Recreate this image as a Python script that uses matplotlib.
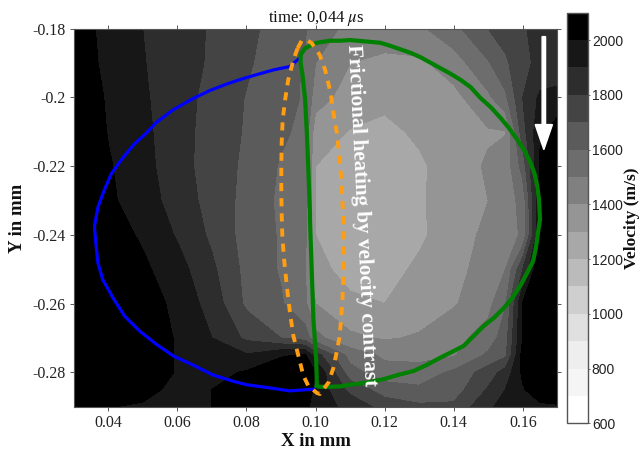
import numpy as np
import matplotlib
matplotlib.use("Agg")
import matplotlib.pyplot as plt
from matplotlib.colors import ListedColormap, BoundaryNorm

x_grid = [0.03, 0.04, 0.05, 0.06, 0.07, 0.08, 0.09, 0.097, 0.10, 0.11, 0.12, 0.13, 0.14, 0.15, 0.155, 0.16, 0.165, 0.17]
y_grid = [-0.18, -0.19, -0.20, -0.21, -0.22, -0.23, -0.24, -0.25, -0.26, -0.27, -0.275, -0.28, -0.285, -0.29]
velocity = [
    [2050, 1970, 1900, 1845, 1790, 1725, 1660, 1610, 1540, 1480, 1470, 1480, 1570, 1700, 1750, 1790, 1830, 1850],
    [2060, 1975, 1905, 1850, 1785, 1715, 1640, 1590, 1500, 1400, 1370, 1380, 1450, 1590, 1680, 1780, 1820, 1840],
    [2100, 1985, 1915, 1840, 1770, 1695, 1635, 1590, 1450, 1350, 1330, 1330, 1370, 1480, 1580, 1800, 1920, 1930],
    [2100, 1995, 1925, 1840, 1760, 1690, 1620, 1570, 1340, 1295, 1270, 1320, 1360, 1390, 1395, 1760, 1980, 2050],
    [2100, 2010, 1935, 1840, 1755, 1680, 1590, 1560, 1300, 1260, 1240, 1280, 1360, 1410, 1440, 1640, 2020, 2100],
    [2100, 2020, 1945, 1860, 1760, 1670, 1580, 1550, 1290, 1250, 1240, 1285, 1360, 1400, 1440, 1540, 1990, 2100],
    [2100, 2050, 1985, 1890, 1780, 1660, 1590, 1530, 1300, 1250, 1240, 1280, 1360, 1420, 1470, 1510, 2010, 2100],
    [2100, 2100, 2020, 1940, 1820, 1670, 1590, 1500, 1330, 1265, 1260, 1320, 1370, 1440, 1500, 1800, 2100, 2100],
    [2100, 2100, 2060, 1970, 1860, 1680, 1610, 1520, 1400, 1320, 1300, 1350, 1390, 1470, 1590, 2010, 2100, 2100],
    [2100, 2100, 2070, 1990, 1900, 1780, 1700, 1650, 1530, 1420, 1390, 1410, 1470, 1540, 1660, 2000, 2100, 2100],
    [2100, 2100, 2080, 1990, 1950, 1910, 1990, 2010, 1850, 1560, 1480, 1470, 1490, 1620, 1680, 2040, 2100, 2100],
    [2100, 2100, 2090, 1990, 1970, 2010, 2060, 2070, 2000, 1640, 1540, 1540, 1620, 1750, 1840, 2020, 2100, 2100],
    [2100, 2100, 2040, 1965, 2000, 2040, 2060, 2060, 1980, 1770, 1650, 1620, 1650, 1810, 1900, 1990, 2060, 2060],
    [2100, 2005, 1985, 1960, 2000, 2050, 2060, 2030, 1950, 1870, 1760, 1720, 1720, 1880, 1940, 1960, 1980, 1990],
]
band_levels = [600, 700, 800, 900, 1000, 1100, 1200, 1300, 1400, 1500, 1600, 1700, 1800, 1900, 2000, 2100]
band_greys = ["#ffffff", "#f5f5f5", "#eeeeee", "#e0e0e0", "#cfcfcf", "#bbbbbb", "#a8a8a8",
              "#959595", "#808080", "#6d6d6d", "#5b5b5b", "#444444", "#2d2d2d", "#171717", "#000000"]
x_ticks = [0.04, 0.06, 0.08, 0.10, 0.12, 0.14, 0.16]
x_tick_labels = ["0.04", "0.06", "0.08", "0.10", "0.12", "0.14", "0.16"]
y_ticks = [-0.18, -0.20, -0.22, -0.24, -0.26, -0.28]
y_tick_labels = ["-0.18", "-0.2", "-0.22", "-0.24", "-0.26", "-0.28"]
cbar_ticks = [600, 800, 1000, 1200, 1400, 1600, 1800, 2000]

blue_x = [.0950, .0926, .0878, .0839, .0791, .0743, .0694, .0646, .0588, .0539, .0510, .0476, .0438, .0409, .0389, .0370,
          .0360, .0363, .0370, .0384, .0413, .0447, .0491, .0539, .0588, .0646, .0704, .0762, .0800, .0859, .0926, .0994]
blue_y = [-.1889, -.1910, -.1920, -.1931, -.1945, -.1961, -.1980, -.2003, -.2036, -.2073, -.2104, -.2135, -.2181, -.2222, -.2268, -.2320,
          -.2375, -.2413, -.2481, -.2530, -.2582, -.2636, -.2680, -.2718, -.2752, -.2779, -.2808, -.2826, -.2836, -.2844, -.2854, -.2849]
green_x = [.1004, .1002, .0994, .0989, .0984, .0984, .0979, .0975, .0970, .0963, .0957, .0957, .0970, .0989, .1004,
           .1042, .1071, .1100, .1144, .1188, .1217, .1246, .1275, .1304, .1333, .1362, .1391, .1420, .1449, .1478, .1507, .1536,
           .1560, .1584, .1606, .1623, .1635, .1642, .1647, .1649,
           .1650, .1644, .1638, .1630, .1613, .1594, .1570, .1546, .1517, .1487, .1458, .1429, .1396, .1362, .1323, .1284, .1241,
           .1197, .1149, .1100, .1071, .1042, .1009, .1004]
green_y = [-.2839, -.2762, -.2646, -.2501, -.2355, -.2336, -.2200, -.2104, -.2007, -.1939, -.1900, -.1876, -.1857, -.1847, -.1841,
           -.1835, -.1835, -.1833, -.1837, -.1841, -.1850, -.1860, -.1870, -.1883, -.1899, -.1915, -.1931, -.1949, -.1970, -.2002, -.2028, -.2060,
           -.2089, -.2123, -.2157, -.2191, -.2225, -.2259, -.2297, -.2336,
           -.2355, -.2394, -.2438, -.2476, -.2510, -.2546, -.2583, -.2612, -.2641, -.2665, -.2694, -.2723, -.2740, -.2757, -.2778, -.2796, -.2807,
           -.2820, -.2830, -.2836, -.2841, -.2842, -.2842, -.2839]
orange_x = [.0948, .0936, .0921, .0912, .0905, .0902, .0901, .0901, .0902, .0904, .0909, .0917, .0926, .0936, .0948, .0965, .0979, .1004,
            .1013, .1038, .1052, .1062, .1070, .1074, .1078, .1081, .1081, .1081, .1079, .1076, .1070, .1062, .1052, .1044, .1028, .1012,
            .0989, .0975, .0960, .0948]
orange_y = [-.1857, -.1891, -.1949, -.2007, -.2065, -.2133, -.2201, -.2268, -.2336, -.2404, -.2471, -.2549, -.2626, -.2694, -.2742, -.2810, -.2839, -.2860,
            -.2863, -.2829, -.2786, -.2738, -.2694, -.2646, -.2588, -.2500, -.2423, -.2355, -.2326, -.2259, -.2181, -.2104, -.2046, -.1988, -.1920, -.1876,
            -.1842, -.1833, -.1835, -.1857]

W, H = 644, 450
fig = plt.figure(figsize=(W / 100, H / 100), dpi=100, facecolor="white")
ax = fig.add_axes([73.7 / W, 1 - 406.7 / H, (557.3 - 73.7) / W, (406.7 - 28.7) / H])
cax = fig.add_axes([567.3 / W, 1 - 423.3 / H, (587.7 - 567.3) / W, (423.3 - 12.7) / H])

serif = "Liberation Serif"
sans = "Liberation Sans"
cmap = ListedColormap(band_greys)
norm = BoundaryNorm(band_levels, cmap.N)
cf = ax.contourf(x_grid, y_grid, np.array(velocity), levels=band_levels, cmap=cmap, norm=norm)
ax.set_xlim(0.03, 0.17)
ax.set_ylim(-0.29, -0.18)

ax.plot(blue_x, blue_y, color="#0000ff", lw=2.3, solid_joinstyle="round", zorder=3)
ax.plot(green_x, green_y, color="#008000", lw=3.0, solid_joinstyle="round", zorder=4)
ax.plot(orange_x, orange_y, color="#ff9e12", lw=2.8, dashes=(2.1, 1.8), zorder=5)
ax.arrow(0.1661, -0.1823, 0, -0.0329, width=0.001, head_width=0.005, head_length=0.0073,
         length_includes_head=True, color="white", zorder=6)
ax.text(0.1132, -0.2344, "Frictional heating by velocity contrast", rotation=-87.2, rotation_mode="anchor",
        ha="center", va="center", color="white", family=serif, weight="bold", fontsize=15.2, zorder=6)

ax.set_xticks(x_ticks, x_tick_labels)
ax.set_yticks(y_ticks, y_tick_labels)
ax.tick_params(axis="both", which="major", direction="out", length=3, width=0.7, color="#555555",
               top=True, right=True, labelsize=11.5, pad=3, labelcolor="#222222")
for lab in ax.get_xticklabels() + ax.get_yticklabels():
    lab.set_family(serif)
for s in ax.spines.values():
    s.set_color("#555555")
    s.set_linewidth(0.8)

fig.text(316 / W, 1 - 19 / H, r"time: 0,044 $\mu$s", ha="center", va="center", family=serif, fontsize=12,
         math_fontfamily="stix", color="#111111")
fig.text(316 / W, 1 - 441 / H, "X in mm", ha="center", va="center", family=serif, weight="bold", fontsize=13.5, color="#111111")
fig.text(17 / W, 1 - 218 / H, "Y in mm", rotation=90, ha="center", va="center", family=serif, weight="bold", fontsize=13.5, color="#111111")

cb = fig.colorbar(cf, cax=cax, ticks=cbar_ticks, spacing="proportional")
cb.ax.minorticks_off()
cb.ax.set_yticks(cbar_ticks, [str(t) for t in cbar_ticks], family=sans, fontsize=10, color="#222222")
cb.ax.tick_params(length=1.5, width=0.6, color="#555555", pad=1.5, direction="out")
cb.outline.set_edgecolor("#555555")
cb.outline.set_linewidth(1.0)
fig.text(632 / W, 1 - 218 / H, "Velocity (m/s)", rotation=90, ha="center", va="center", family=serif, weight="bold", fontsize=12.5, color="#111111")

fig.savefig("out.png", dpi=100, facecolor="white")
